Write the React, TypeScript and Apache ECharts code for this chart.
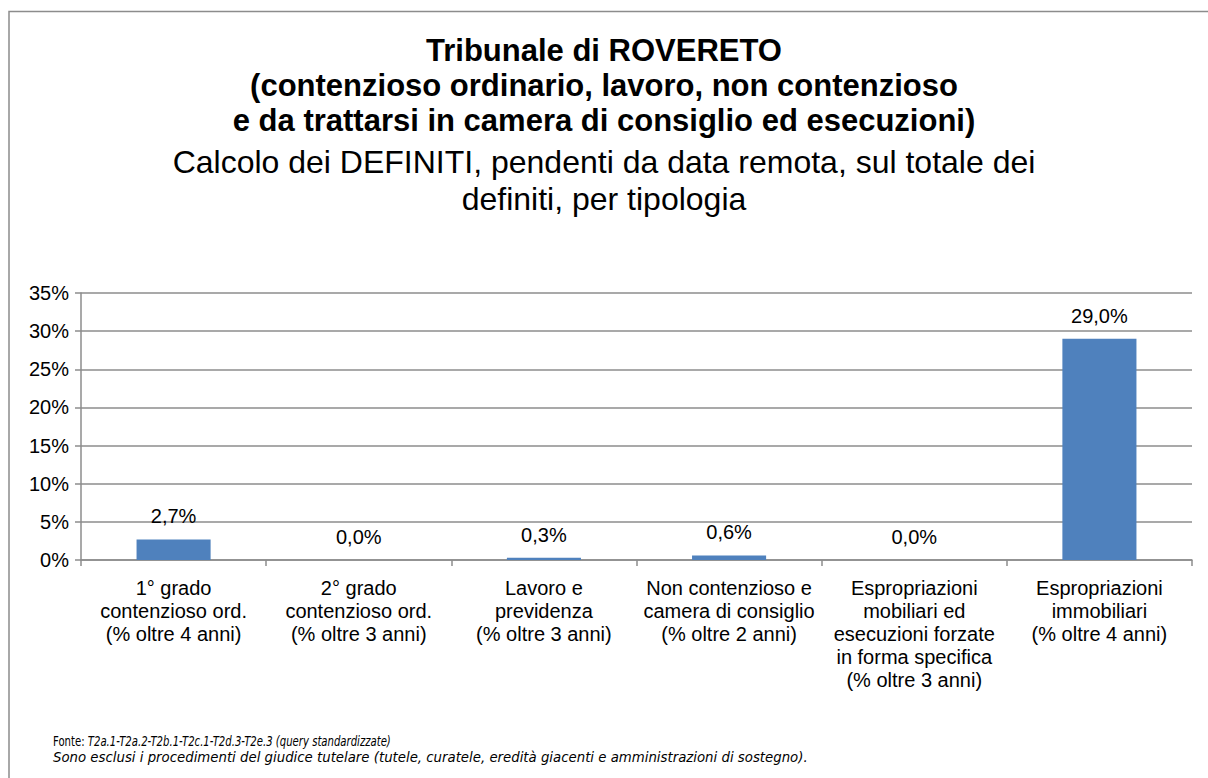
import React, { useEffect, useRef } from "react";
import * as echarts from "echarts";

const titleLines = [
  "Tribunale di ROVERETO",
  "(contenzioso ordinario, lavoro, non contenzioso",
  "e da trattarsi in camera di consiglio ed esecuzioni)",
];
const subtitleLines = [
  "Calcolo dei DEFINITI, pendenti da data remota, sul totale dei",
  "definiti, per tipologia",
];
const categories = [
  "1° grado\ncontenzioso ord.\n(% oltre 4 anni)",
  "2° grado\ncontenzioso ord.\n(% oltre 3 anni)",
  "Lavoro e\nprevidenza\n(% oltre 3 anni)",
  "Non contenzioso e\ncamera di consiglio\n(% oltre 2 anni)",
  "Espropriazioni\nmobiliari ed\nesecuzioni forzate\nin forma specifica\n(% oltre 3 anni)",
  "Espropriazioni\nimmobiliari\n(% oltre 4 anni)",
];
const values = [2.7, 0.0, 0.3, 0.6, 0.0, 29.0];
const yMin = 0;
const yMax = 35;
const yStep = 5;
const footerLabel = "Fonte: ";
const footerSource = "T2a.1-T2a.2-T2b.1-T2c.1-T2d.3-T2e.3 (query standardizzate)";
const footerNote =
  "Sono esclusi i procedimenti del giudice tutelare (tutele, curatele, eredità giacenti e amministrazioni di sostegno).";

const FONT = "'Liberation Sans', Arial, sans-serif";
const FOOT_FONT = "'DejaVu Sans', Verdana, sans-serif";
const GRID_COLOR = "#8c8c8c";

export default function App() {
  const ref = useRef<HTMLDivElement>(null);
  useEffect(() => {
    if (!ref.current) return;
    const chart = echarts.init(ref.current, undefined, { renderer: "svg" });
    chart.setOption({
      animation: false,
      backgroundColor: "#ffffff",
      title: {
        text: titleLines.join("\n"),
        subtext: subtitleLines.join("\n"),
        left: "center",
        top: 33,
        padding: 0,
        itemGap: 5,
        textStyle: {
          fontFamily: FONT,
          fontSize: 31,
          fontWeight: "bold",
          color: "#000",
          lineHeight: 35,
          align: "center",
        },
        subtextStyle: {
          fontFamily: FONT,
          fontSize: 32,
          color: "#000",
          lineHeight: 37,
          align: "center",
        },
      },
      grid: { left: 81, right: 16, top: 293, bottom: 218, containLabel: false },
      xAxis: {
        type: "category",
        data: categories,
        axisLine: { show: true, lineStyle: { color: GRID_COLOR, width: 1.5 } },
        axisTick: { show: true, length: 6, alignWithLabel: false, lineStyle: { color: GRID_COLOR, width: 1.5 } },
        axisLabel: {
          interval: 0,
          margin: 16,
          fontFamily: FONT,
          fontSize: 20,
          lineHeight: 23,
          color: "#000",
          align: "center",
        },
      },
      yAxis: {
        type: "value",
        min: yMin,
        max: yMax,
        interval: yStep,
        axisLine: { show: true, lineStyle: { color: GRID_COLOR, width: 1.5 } },
        axisTick: { show: true, length: 6, lineStyle: { color: GRID_COLOR, width: 1.5 } },
        splitLine: { show: true, lineStyle: { color: GRID_COLOR, width: 1.5 } },
        axisLabel: {
          margin: 12,
          fontFamily: FONT,
          fontSize: 20,
          color: "#000",
          formatter: (v: number) => `${v}%`,
        },
      },
      series: [
        {
          type: "bar",
          data: values,
          barWidth: "40%",
          itemStyle: { color: "#4F81BD" },
          label: {
            show: true,
            position: "top",
            distance: 13,
            fontFamily: FONT,
            fontSize: 20,
            lineHeight: 20,
            color: "#000",
            formatter: (p: any) => `${Number(p.value).toFixed(1).replace(".", ",")}%`,
          },
        },
      ],
      graphic: [
        {
          type: "rect",
          silent: true,
          shape: { x: 9, y: 11.5, width: 1400, height: 1000 },
          style: { fill: "none", stroke: "#8c8c8c", lineWidth: 1.5 },
        },
        {
          type: "text",
          x: 53,
          y: 741,
          scaleX: 0.76,
          style: {
            text: `{n|${footerLabel}}{i|${footerSource}}`,
            verticalAlign: "middle",
            rich: {
              n: { fontFamily: FOOT_FONT, fontSize: 13.3, fill: "#000" },
              i: { fontFamily: FOOT_FONT, fontSize: 13.3, fontStyle: "italic", fill: "#000" },
            },
          },
        },
        {
          type: "text",
          x: 53,
          y: 757,
          style: {
            text: footerNote,
            fontFamily: FOOT_FONT,
            fontSize: 13.3,
            fontStyle: "italic",
            fill: "#000",
            verticalAlign: "middle",
          },
        },
      ],
    });
    return () => chart.dispose();
  }, []);
  return (
    <div
      ref={ref}
      style={{ position: "fixed", left: 0, top: 0, width: 1208, height: 778, background: "#fff" }}
    />
  );
}
